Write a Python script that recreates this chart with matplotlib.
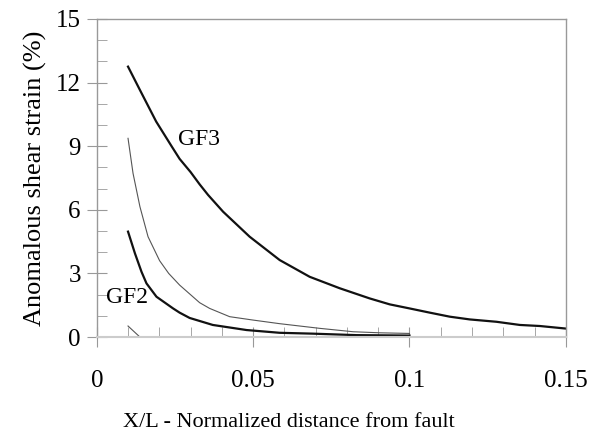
import matplotlib.pyplot as plt
from matplotlib.ticker import MultipleLocator

plt.rcParams['font.family'] = ['Liberation Serif', 'DejaVu Serif']

# GF3 curve (thick)
gf3_x = [0.01, 0.0138, 0.019, 0.024, 0.0265, 0.03, 0.0329, 0.0356, 0.0404, 0.0489,
         0.0585, 0.0681, 0.0777, 0.0873, 0.0937, 0.1, 0.1065, 0.1129, 0.1193, 0.1278,
         0.1353, 0.1417, 0.15]
gf3_y = [12.75, 11.65, 10.16, 8.98, 8.4, 7.78, 7.2, 6.7, 5.91, 4.73,
         3.63, 2.84, 2.3, 1.82, 1.54, 1.35, 1.15, 0.96, 0.83, 0.72,
         0.57, 0.52, 0.4]

# middle curve (thin)
mid_x = [0.01, 0.0116, 0.0138, 0.0164, 0.0201, 0.023, 0.0265, 0.0329, 0.0361, 0.0425,
         0.05, 0.0585, 0.0713, 0.082, 0.0905, 0.1]
mid_y = [9.37, 7.72, 6.15, 4.73, 3.6, 3.0, 2.45, 1.62, 1.35, 0.96,
         0.8, 0.63, 0.41, 0.25, 0.2, 0.17]

# GF2 curve (thick)
gf2_x = [0.01, 0.0122, 0.0143, 0.0159, 0.0191, 0.0244, 0.0265, 0.0297, 0.0371, 0.0479,
         0.0585, 0.069, 0.083, 0.1]
gf2_y = [4.97, 3.95, 3.08, 2.53, 1.9, 1.35, 1.15, 0.9, 0.57, 0.33,
         0.2, 0.16, 0.09, 0.07]

# short segment near origin
low_x = [0.01, 0.0138]
low_y = [0.52, 0.0]

fig = plt.figure(figsize=(5.9, 4.4), dpi=100)
ax = fig.add_axes([0.164, 0.234, 0.795, 0.723])

ax.plot(gf3_x, gf3_y, color='#111111', linewidth=1.6)
ax.plot(mid_x, mid_y, color='#555555', linewidth=0.8)
ax.plot(gf2_x, gf2_y, color='#111111', linewidth=1.6)
ax.plot(low_x, low_y, color='#555555', linewidth=0.8)

ax.text(0.0259, 9.3, 'GF3', fontsize=17, va='center', ha='left')
ax.text(0.003, 1.85, 'GF2', fontsize=17, va='center', ha='left')

ax.set_xlim(0, 0.15)
ax.set_ylim(0, 15)
ax.xaxis.set_minor_locator(MultipleLocator(0.01))
ax.yaxis.set_major_locator(MultipleLocator(3))
ax.yaxis.set_minor_locator(MultipleLocator(1))
ax.set_xticks([0, 0.05, 0.1, 0.15])
ax.set_xticklabels(['0', '0.05', '0.1', '0.15'])

for s in ax.spines.values():
    s.set_color('#999999')
    s.set_linewidth(1.0)
ax.spines['bottom'].set_color('#cccccc')
ax.spines['bottom'].set_linewidth(1.5)

ax.tick_params(axis='both', which='major', direction='inout', length=15,
               color='#999999', labelsize=18)
ax.tick_params(axis='x', which='major', pad=16)
ax.tick_params(axis='y', which='major', pad=4)
ax.tick_params(axis='both', which='minor', direction='in', length=7, color='#999999')

ax.set_xlabel('X/L - Normalized distance from fault', fontsize=16)
ax.xaxis.set_label_coords(0.41, -0.24)
ax.set_ylabel('Anomalous shear strain (%)', fontsize=19, labelpad=6)

fig.savefig('out.png', dpi=100)
